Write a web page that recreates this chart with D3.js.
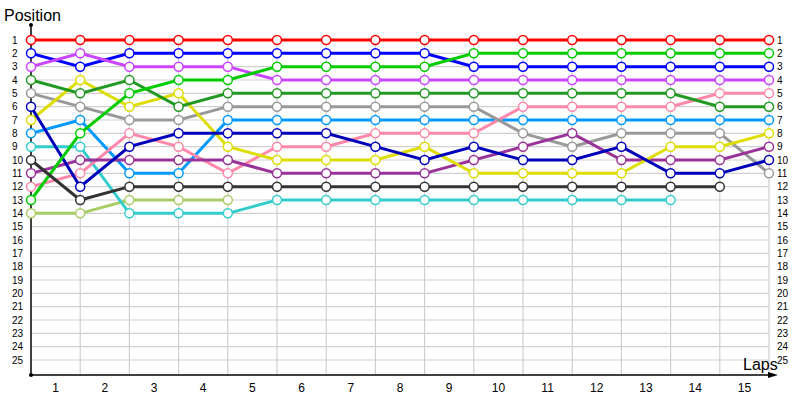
<!DOCTYPE html>
<html>
<head>
<meta charset="utf-8">
<script src="https://cdn.jsdelivr.net/npm/d3@7"></script>
<style>
  body { margin: 0; background: #fff; }
  svg { display: block; }
  text { font-family: "Liberation Sans", "DejaVu Sans", sans-serif; fill: #000; }
</style>
</head>
<body>
<svg id="canvas" width="800" height="400"></svg>
<script>
// Lap numbers shown along the bottom
const lapLabels = [1, 2, 3, 4, 5, 6, 7, 8, 9, 10, 11, 12, 13, 14, 15];
const positionLabels = d3.range(1, 26);

// Position of each car at lap 0..15 (shorter arrays = retired)
const red        = [1, 1, 1, 1, 1, 1, 1, 1, 1, 1, 1, 1, 1, 1, 1, 1];
const blue       = [2, 3, 2, 2, 2, 2, 2, 2, 2, 3, 3, 3, 3, 3, 3, 3];
const green      = [13, 8, 5, 4, 4, 3, 3, 3, 3, 2, 2, 2, 2, 2, 2, 2];
const violet     = [3, 2, 3, 3, 3, 4, 4, 4, 4, 4, 4, 4, 4, 4, 4, 4];
const darkGreen  = [4, 5, 4, 6, 5, 5, 5, 5, 5, 5, 5, 5, 5, 5, 6, 6];
const grey       = [5, 6, 7, 7, 6, 6, 6, 6, 6, 6, 8, 9, 8, 8, 8, 11];
const yellow     = [7, 4, 6, 5, 9, 10, 10, 10, 9, 11, 11, 11, 11, 9, 9, 8];
const lightBlue  = [8, 7, 11, 11, 7, 7, 7, 7, 7, 7, 7, 7, 7, 7, 7, 7];
const navy       = [6, 12, 9, 8, 8, 8, 8, 9, 10, 9, 10, 10, 9, 11, 11, 10];
const pink       = [12, 11, 8, 9, 11, 9, 9, 8, 8, 8, 6, 6, 6, 6, 5, 5];
const cyan       = [9, 9, 14, 14, 14, 13, 13, 13, 13, 13, 13, 13, 13, 13];
const purple     = [11, 10, 10, 10, 10, 11, 11, 11, 11, 10, 9, 8, 10, 10, 10, 9];
const black      = [10, 13, 12, 12, 12, 12, 12, 12, 12, 12, 12, 12, 12, 12, 12];
const lightGreen = [14, 14, 13, 13, 13];

const series = [
    { values: lightGreen, color: "#a8cc66" },
    { values: cyan,       color: "#33cccc" },
    { values: lightBlue,  color: "#0099ff" },
    { values: pink,       color: "#ff88aa" },
    { values: grey,       color: "#999999" },
    { values: purple,     color: "#993399" },
    { values: yellow,     color: "#dddd00" },
    { values: blue,       color: "#0000ff" },
    { values: violet,     color: "#cc44ff" },
    { values: darkGreen,  color: "#229922" },
    { values: navy,       color: "#0000bb" },
    { values: green,      color: "#00cc00" },
    { values: black,      color: "#333333" },
    { values: red,        color: "#ff0000" }
];

const svg = d3.select("#canvas");

const x = d3.scaleLinear().domain([0, 15]).range([31, 769]);
const y = d3.scaleLinear().domain([1, 25]).range([40, 360]);
const axisY = 375;

// Gridlines
const grid = svg.append("g").attr("stroke", "#cfcfcf").attr("stroke-width", 1.2);
grid.selectAll(".h")
    .data(positionLabels)
    .enter()
    .append("line")
    .attr("x1", x(0))
    .attr("x2", x(15))
    .attr("y1", d => y(d))
    .attr("y2", d => y(d));
grid.selectAll(".v")
    .data(lapLabels)
    .enter()
    .append("line")
    .attr("x1", d => x(d))
    .attr("x2", d => x(d))
    .attr("y1", y(1))
    .attr("y2", axisY);

// Axes
svg.append("line")
    .attr("x1", x(0)).attr("x2", x(0))
    .attr("y1", 25).attr("y2", axisY)
    .attr("stroke", "#000").attr("stroke-width", 1.5);
svg.append("line")
    .attr("x1", x(0)).attr("x2", 772)
    .attr("y1", axisY).attr("y2", axisY)
    .attr("stroke", "#000").attr("stroke-width", 1.5);
svg.append("path")
    .attr("d", `M768,${axisY - 3} L778,${axisY} L768,${axisY + 3} Z`)
    .attr("fill", "#000");
svg.append("circle").attr("cx", x(0)).attr("cy", 25).attr("r", 2).attr("fill", "#000");
svg.append("circle").attr("cx", x(0)).attr("cy", axisY).attr("r", 2).attr("fill", "#000");

// Axis titles
svg.append("text").attr("x", 4).attr("y", 21).attr("font-size", 16).text("Position");
svg.append("text").attr("x", 743).attr("y", 370).attr("font-size", 16).text("Laps");

// Position labels on both sides
svg.selectAll(".left-label")
    .data(positionLabels)
    .enter()
    .append("text")
    .attr("x", 12)
    .attr("y", d => y(d))
    .attr("dy", "0.35em")
    .attr("font-size", 10)
    .text(d => d);
svg.selectAll(".right-label")
    .data(positionLabels)
    .enter()
    .append("text")
    .attr("x", 777)
    .attr("y", d => y(d))
    .attr("dy", "0.35em")
    .attr("font-size", 10)
    .text(d => d);

// Lap labels between gridlines
svg.selectAll(".lap-label")
    .data(lapLabels)
    .enter()
    .append("text")
    .attr("x", d => x(d - 0.5))
    .attr("y", 388)
    .attr("dy", "0.35em")
    .attr("text-anchor", "middle")
    .attr("font-size", 12)
    .text(d => d);

// Position lines
const line = d3.line().x((d, i) => x(i)).y(d => y(d));
const groups = svg.selectAll(".driver")
    .data(series)
    .enter()
    .append("g");

groups.append("path")
    .attr("d", d => line(d.values))
    .attr("fill", "none")
    .attr("stroke", d => d.color)
    .attr("stroke-width", 3);

groups.selectAll("circle")
    .data(d => d.values.map(v => ({ v, color: d.color })))
    .enter()
    .append("circle")
    .attr("cx", (d, i) => x(i))
    .attr("cy", d => y(d.v))
    .attr("r", 4.5)
    .attr("fill", "#fff")
    .attr("stroke", d => d.color)
    .attr("stroke-width", 1.5);
</script>
</body>
</html>
